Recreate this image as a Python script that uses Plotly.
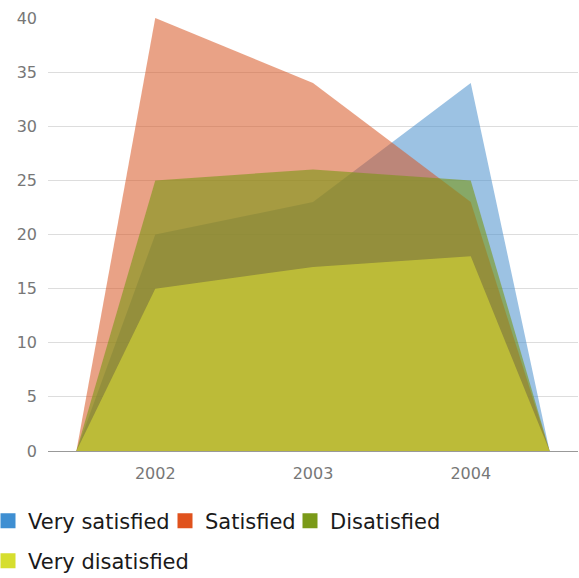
import plotly.graph_objects as go

years = [2002, 2003, 2004]
very_satisfied = [20, 23, 34]
satisfied = [40, 34, 23]
disatisfied = [25, 26, 25]
very_disatisfied = [15, 17, 18]

names = ["Very satisfied", "Satisfied", "Disatisfied", "Very disatisfied"]
series = [very_satisfied, satisfied, disatisfied, very_disatisfied]
fills = ["rgba(75,144,204,0.55)", "rgba(215,85,35,0.55)", "rgba(122,150,20,0.6)", "rgba(195,195,55,0.85)"]
solid = ["#3f8fd2", "#e0521d", "#7a9a18", "#d6de2e"]

x_edge = [years[0] - 0.5] + years + [years[-1] + 0.5]

W, H = 579, 578
L, R, T, B = 48, 1, 18, 127
pw, ph = W - L - R, H - T - B

def px_x(p):
    return (p - L) / pw

def px_y(p):
    return (H - B - p) / ph

fig = go.Figure()
for n, s, fc in zip(names, series, fills):
    fig.add_trace(go.Scatter(x=x_edge, y=[0] + s + [0], mode="lines", fill="tozeroy",
                             fillcolor=fc, line=dict(width=0), showlegend=False, name=n,
                             hoverinfo="skip"))

# legend placement (square centre, row centre) in pixels
legend_pos = [(6, 521), (183, 521), (308, 521), (6, 561)]
legend_ids = ["legend", "legend2", "legend3", "legend4"]
for n, c, lid in zip(names, solid, legend_ids):
    fig.add_trace(go.Scatter(x=[None], y=[None], mode="markers", name=n, legend=lid,
                             marker=dict(symbol="square", size=15, color=c)))

layout_legends = {}
for lid, (cx, cy) in zip(legend_ids, legend_pos):
    layout_legends[lid] = dict(x=px_x(cx - 18), xanchor="left", y=px_y(cy), yanchor="middle",
                               font=dict(size=21, family="DejaVu Sans", color="#1a1a1a"),
                               bgcolor="rgba(0,0,0,0)", borderwidth=0)

fig.update_layout(
    width=W, height=H,
    margin=dict(l=L, r=R, t=T, b=B, autoexpand=False),
    plot_bgcolor="white", paper_bgcolor="white",
    font=dict(family="DejaVu Sans", color="#777"),
    xaxis=dict(range=[2001.32, 2004.68], tickvals=years, ticktext=[str(y) for y in years],
               showgrid=False, zeroline=False, showline=True, linecolor="#999",
               tickfont=dict(size=16, color="#777"), ticks="", ticklabelstandoff=8,
               automargin=False),
    yaxis=dict(range=[0, 40], dtick=5, showgrid=True, gridcolor="#dddddd", zeroline=False,
               tickfont=dict(size=16, color="#777"), ticks="", ticklabelstandoff=10,
               automargin=False),
    **layout_legends,
)
fig.write_html("out.html", config={"displayModeBar": False},
               post_script="document.body.style.margin='0';")
